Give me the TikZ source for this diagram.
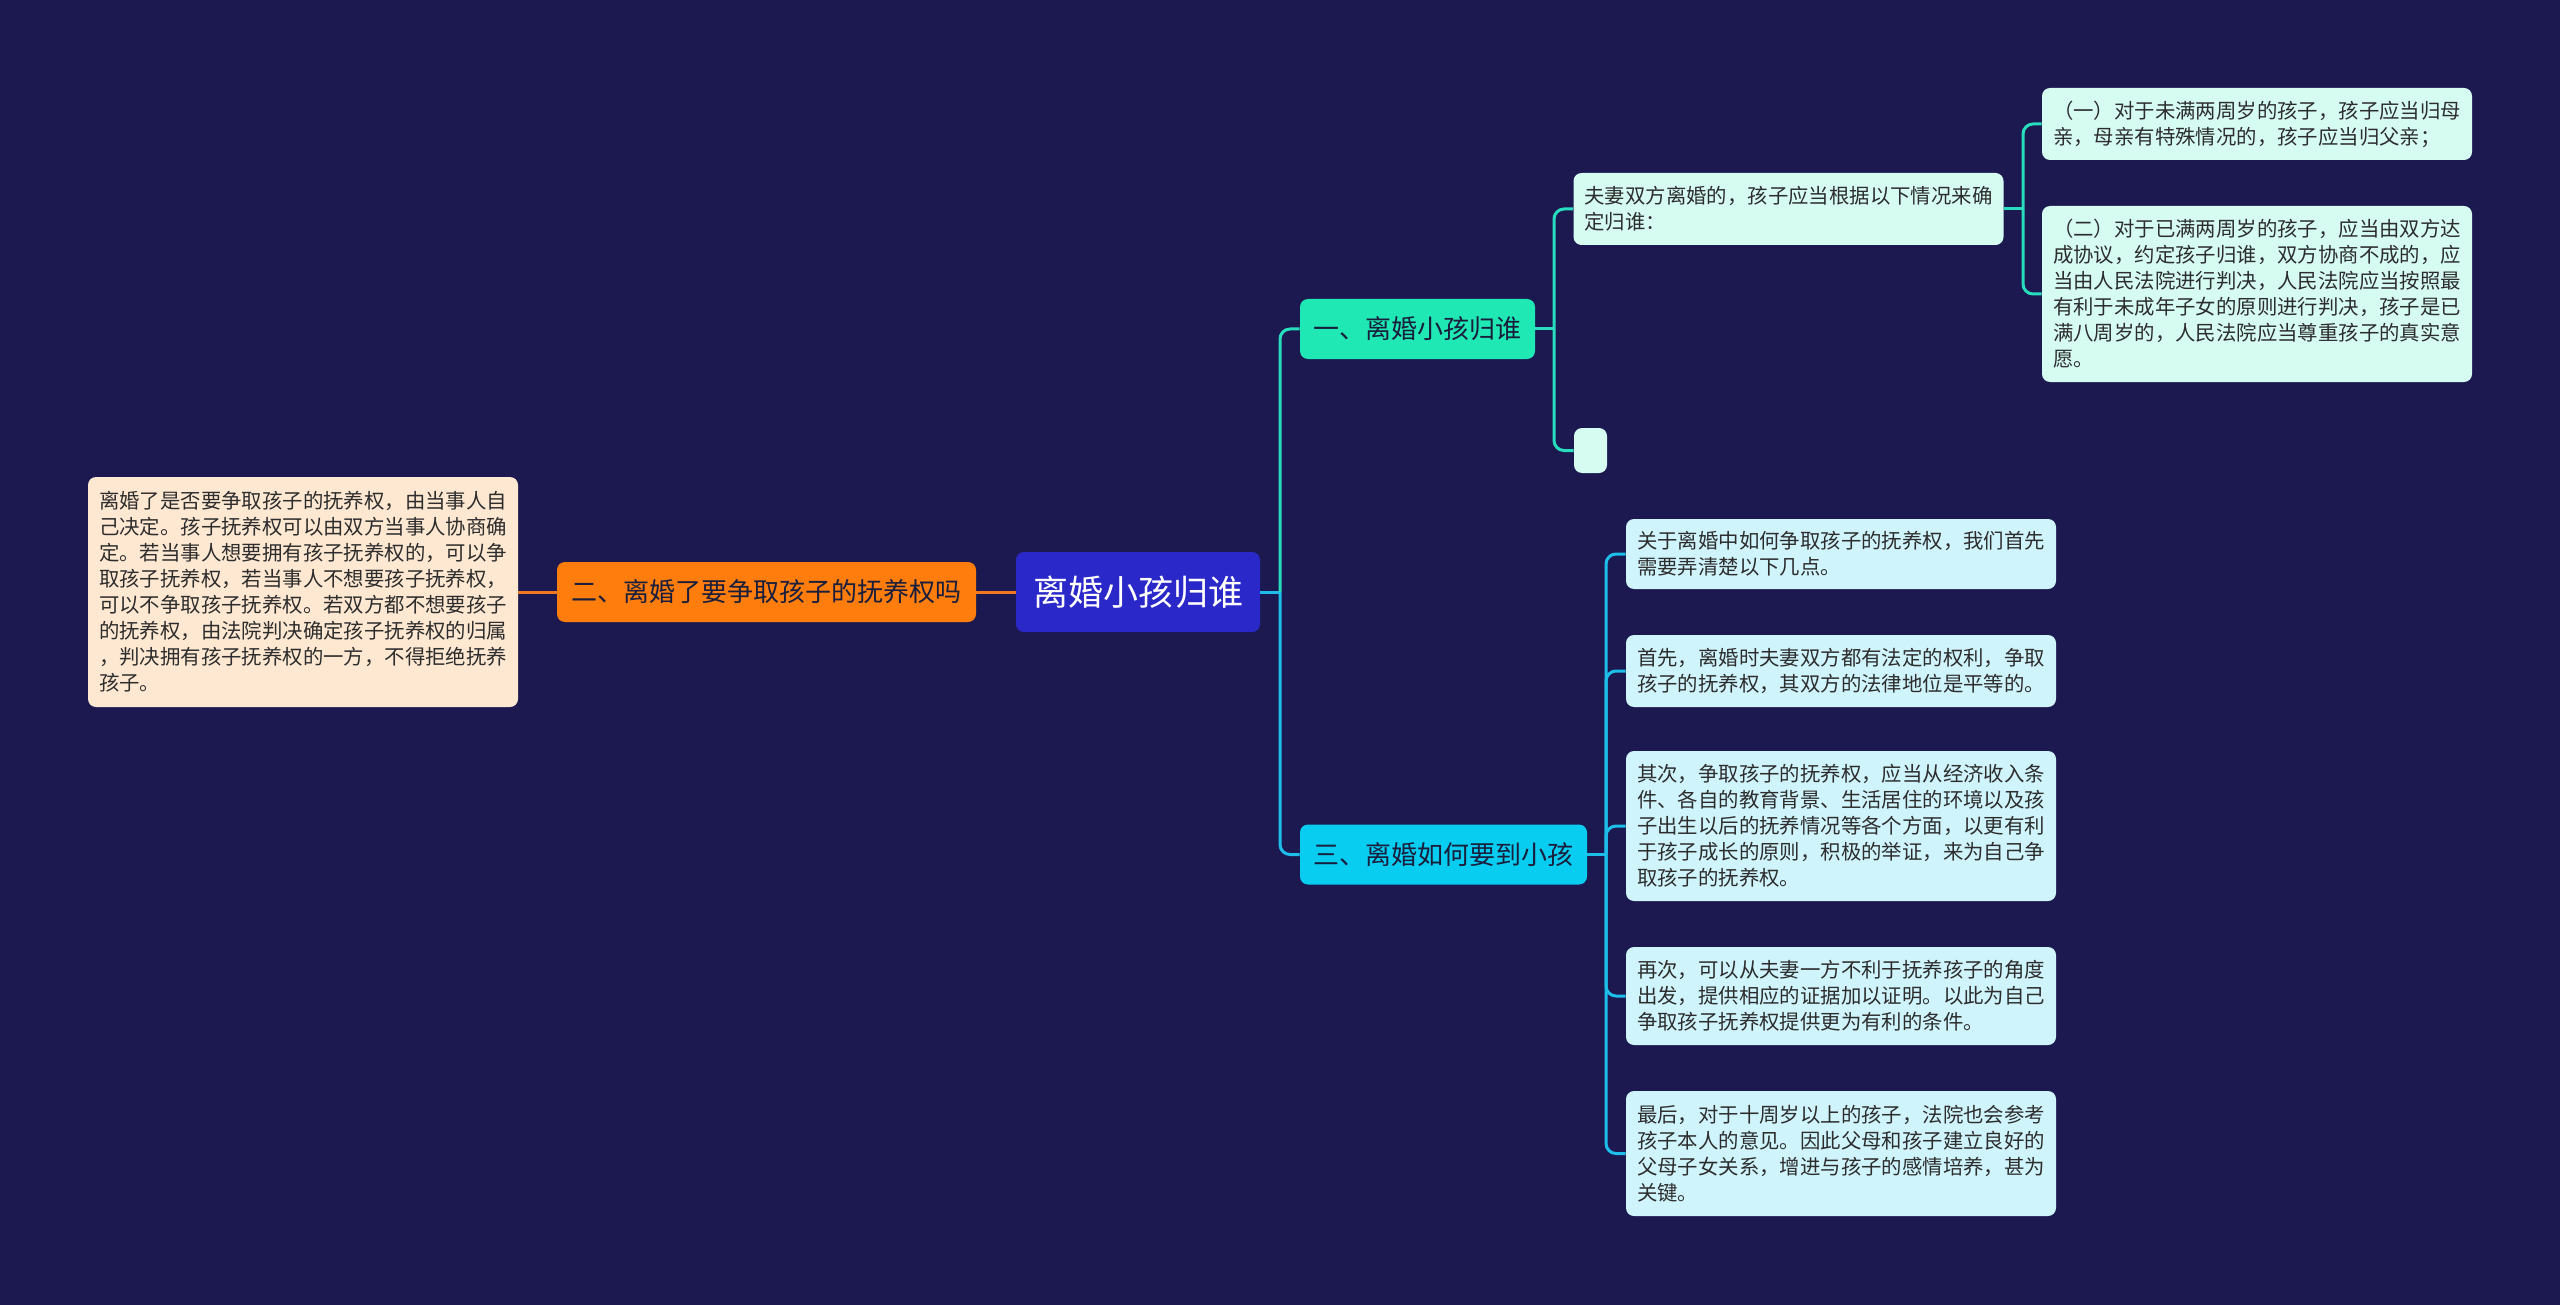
\documentclass[tikz,border=0pt]{standalone}
\usepackage{fontspec}
\setmainfont{Noto Sans CJK SC}
\usepackage{xcolor}
\definecolor{bgnavy}{RGB}{27,25,80}
\definecolor{rootblue}{RGB}{42,40,200}
\definecolor{b1fill}{RGB}{32,232,180}
\definecolor{mint}{RGB}{214,252,242}
\definecolor{b2fill}{RGB}{255,125,12}
\definecolor{peach}{RGB}{254,232,210}
\definecolor{b3fill}{RGB}{8,204,240}
\definecolor{ice}{RGB}{208,244,252}
\definecolor{tealline}{RGB}{40,220,190}
\definecolor{cyanline}{RGB}{30,190,235}
\definecolor{orangeline}{RGB}{240,120,30}
\definecolor{leaftext}{RGB}{45,45,45}
\definecolor{branchtext}{RGB}{25,30,60}

\begin{document}
\begin{tikzpicture}[x=0.5pt,y=-0.5pt,
  box/.style={rounded corners=4pt,inner sep=0pt,align=center},
  rootbox/.style={box,fill=rootblue,text=white,minimum width=122pt,minimum height=40pt,font=\fontsize{17.5}{20}\selectfont},
  branch/.style={box,text=branchtext,minimum height=30pt,font=\fontsize{13}{15}\selectfont},
  leaf/.style={rounded corners=4pt,inner xsep=5.5pt,inner ysep=0pt,text width=204pt,align=left,text=leaftext,font=\fontsize{10.2}{13}\selectfont},
  link/.style={line width=1.5pt,rounded corners=5pt}]
  \useasboundingbox (0,0) rectangle (2560,1305);
  \fill[bgnavy] (0,0) rectangle (2560,1305);

  \node[rootbox] (root) at (1138,592) {离婚小孩归谁};
  \node[branch,fill=b1fill,minimum width=117.5pt] (b1) at (1417.5,329) {一、离婚小孩归谁};
  \node[branch,fill=b2fill,minimum width=209.5pt] (b2) at (766.5,592) {二、离婚了要争取孩子的抚养权吗};
  \node[branch,fill=b3fill,minimum width=143.5pt] (b3) at (1443.5,854.5) {三、离婚如何要到小孩};

  \node[leaf,fill=peach,minimum height=115pt] (b2a) at (303,592) {离婚了是否要争取孩子的抚养权，由当事人自\\己决定。孩子抚养权可以由双方当事人协商确\\定。若当事人想要拥有孩子抚养权的，可以争\\取孩子抚养权，若当事人不想要孩子抚养权，\\可以不争取孩子抚养权。若双方都不想要孩子\\的抚养权，由法院判决确定孩子抚养权的归属\\，判决拥有孩子抚养权的一方，不得拒绝抚养\\孩子。};

  \node[leaf,fill=mint,minimum height=36pt] (b1a) at (1788.5,209) {夫妻双方离婚的，孩子应当根据以下情况来确\\定归谁：};
  \node[box,fill=mint,minimum width=16.5pt,minimum height=22.5pt] (b1b) at (1590.5,450.5) {};
  \node[leaf,fill=mint,minimum height=36pt] (b1a1) at (2257,124) {（一）对于未满两周岁的孩子，孩子应当归母\\亲，母亲有特殊情况的，孩子应当归父亲；};
  \node[leaf,fill=mint,minimum height=88pt] (b1a2) at (2257,294) {（二）对于已满两周岁的孩子，应当由双方达\\成协议，约定孩子归谁，双方协商不成的，应\\当由人民法院进行判决，人民法院应当按照最\\有利于未成年子女的原则进行判决，孩子是已\\满八周岁的，人民法院应当尊重孩子的真实意\\愿。};

  \node[leaf,fill=ice,minimum height=35pt] (b3a) at (1841,554) {关于离婚中如何争取孩子的抚养权，我们首先\\需要弄清楚以下几点。};
  \node[leaf,fill=ice,minimum height=36pt] (b3b) at (1841,671) {首先，离婚时夫妻双方都有法定的权利，争取\\孩子的抚养权，其双方的法律地位是平等的。};
  \node[leaf,fill=ice,minimum height=75pt] (b3c) at (1841,826) {其次，争取孩子的抚养权，应当从经济收入条\\件、各自的教育背景、生活居住的环境以及孩\\子出生以后的抚养情况等各个方面，以更有利\\于孩子成长的原则，积极的举证，来为自己争\\取孩子的抚养权。};
  \node[leaf,fill=ice,minimum height=49pt] (b3d) at (1841,996) {再次，可以从夫妻一方不利于抚养孩子的角度\\出发，提供相应的证据加以证明。以此为自己\\争取孩子抚养权提供更为有利的条件。};
  \node[leaf,fill=ice,minimum height=62.5pt] (b3e) at (1841,1153.5) {最后，对于十周岁以上的孩子，法院也会参考\\孩子本人的意见。因此父母和孩子建立良好的\\父母子女关系，增进与孩子的感情培养，甚为\\关键。};

  \coordinate (t0) at (1280,592);
  \coordinate (t1) at (1554,329);
  \coordinate (t2) at (2023,209);
  \coordinate (t3) at (1606,854.5);

  \draw[link,cyanline] (root.east) -- (t0);
  \draw[link,tealline] (b1.west) -| (t0);
  \draw[link,cyanline] (b3.west) -| (t0);
  \draw[link,orangeline] (root.west) -- (b2.east);
  \draw[link,orangeline] (b2.west) -- (b2a.east);

  \draw[link,tealline] (b1.east) -- (t1);
  \foreach \n in {b1a,b1b} \draw[link,tealline] (\n.west) -| (t1);
  \draw[link,tealline] (b1a.east) -- (t2);
  \foreach \n in {b1a1,b1a2} \draw[link,tealline] (\n.west) -| (t2);
  \draw[link,cyanline] (b3.east) -- (t3);
  \foreach \n in {b3a,b3b,b3c,b3d,b3e} \draw[link,cyanline] (\n.west) -| (t3);
\end{tikzpicture}
\end{document}
